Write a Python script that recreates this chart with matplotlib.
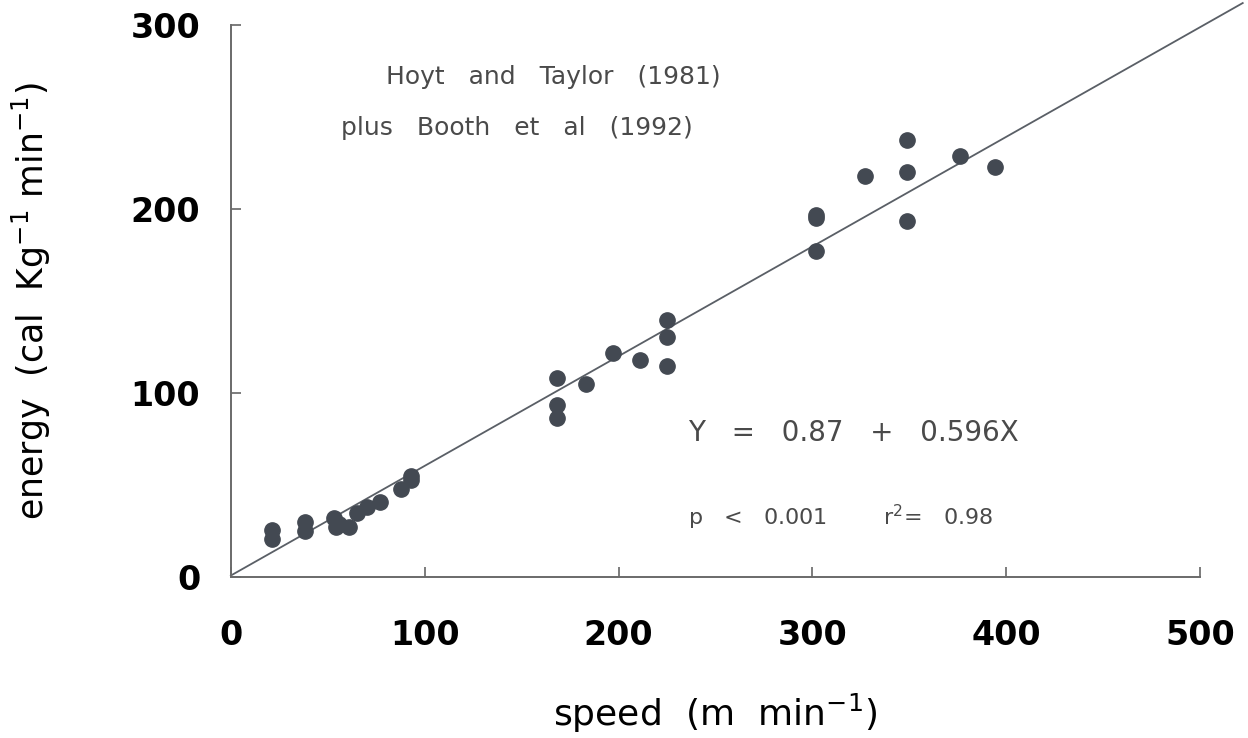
import matplotlib
matplotlib.use("Agg")
import matplotlib.pyplot as plt
import numpy as np

# speed (m/min) and energy (cal/kg/min)
speed = [21, 21, 38, 38, 53, 54, 56, 61, 65, 70, 77, 88, 93, 93,
         168, 168, 168, 183, 197, 211, 225, 225, 225,
         302, 302, 302, 327, 349, 349, 349, 376, 394]
energy = [25.5, 20.5, 30, 25, 32, 27.5, 29, 27, 35, 38, 41, 48, 53, 55,
          108, 93.5, 86.5, 105, 122, 118, 114.5, 130.5, 139.5,
          197, 195, 177, 218, 237.5, 220, 193.5, 229, 223]

intercept = 0.87
slope = 0.596

xticks = [0, 100, 200, 300, 400, 500]
yticks = [0, 100, 200, 300]

fig = plt.figure(figsize=(12.48, 7.38), dpi=100)
ax = fig.add_axes([0.185, 0.218, 0.7766, 0.748])

ax.plot(speed, energy, 'o', color='#434952', markersize=11, zorder=3)

xl = np.array([0, 522])
ax.plot(xl, intercept + slope * xl, color='#5a5f66', lw=1.3, clip_on=False, zorder=2)

ax.set_xlim(0, 500)
ax.set_ylim(0, 300)
ax.set_xticks(xticks)
ax.set_yticks(yticks)
ax.set_xticklabels([str(v) for v in xticks], fontsize=24, fontweight='semibold')
ax.set_yticklabels([str(v) for v in yticks], fontsize=24, fontweight='semibold')
ax.tick_params(direction='in', length=7, width=1.2, color='#666666')
ax.tick_params(axis='x', pad=30)
ax.tick_params(axis='y', pad=22)

for s in ['top', 'right']:
    ax.spines[s].set_visible(False)
for s in ['left', 'bottom']:
    ax.spines[s].set_color('#6a6a6a')
    ax.spines[s].set_linewidth(1.4)

ax.set_xlabel('speed  (m  min$^{\\mathregular{-1}}$)', fontsize=26, va='baseline')
ax.xaxis.set_label_coords(0.5, -0.27)
ax.set_ylabel('energy  (cal  Kg$^{\\mathregular{-1}}$ min$^{\\mathregular{-1}}$)', fontsize=25, labelpad=56)

ax.text(80, 268, 'Hoyt   and   Taylor   (1981)', color='#4a4a4a', fontsize=18)
ax.text(57, 240, 'plus   Booth   et   al   (1992)', color='#4a4a4a', fontsize=18)
ax.text(236, 74, 'Y   =   0.87   +   0.596X', color='#4a4a4a', fontsize=20)
ax.text(236, 28, 'p   <   0.001        r$^{\\mathregular{2}}$=   0.98', color='#4a4a4a', fontsize=16)

fig.savefig('out.png', dpi=100)
